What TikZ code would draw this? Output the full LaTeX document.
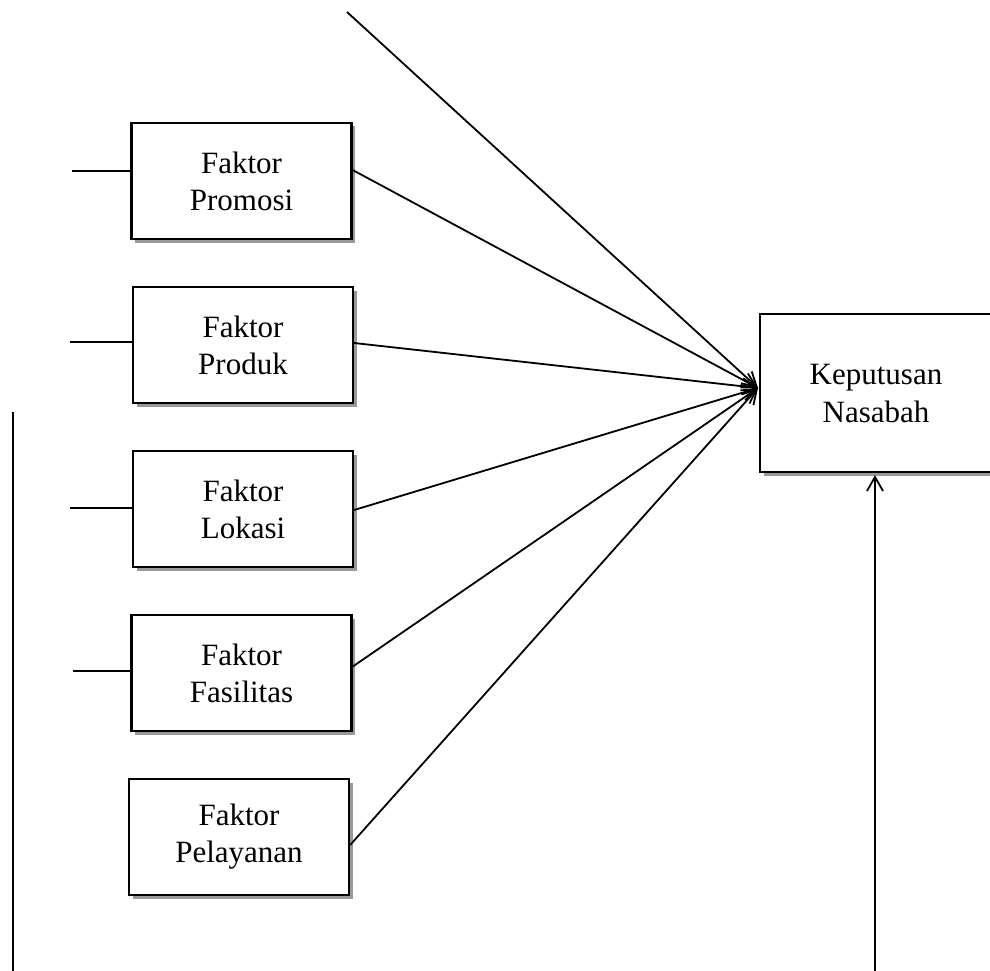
\documentclass[tikz,border=0pt]{standalone}
\usepackage{fontspec}
\setmainfont{Liberation Serif}
\usetikzlibrary{arrows.meta,shadows}
\begin{document}
\begin{tikzpicture}[x=1pt,y=-1pt,
  box/.style={draw=black, line width=2.3pt, fill=white, minimum width=220pt, minimum height=116pt,
    align=center, inner sep=0pt, font=\fontsize{31}{37}\selectfont,
    drop shadow={shadow xshift=3.5pt, shadow yshift=-3.5pt, fill=black!40, opacity=1}},
  conn/.style={line width=1.8pt},
  arr/.style={conn, -{Straight Barb[length=14pt,width=16pt,line width=1.8pt]}}]
\useasboundingbox (0,0) rectangle (990,971);
% boxes
\node[box] (promosi) at (241.5,181) {Faktor\\Promosi};
\node[box] (produk) at (243,345) {Faktor\\Produk};
\node[box] (lokasi) at (243,509) {Faktor\\Lokasi};
\node[box] (fasilitas) at (241.5,673) {Faktor\\Fasilitas};
\node[box] (pelayanan) at (239,837) {Faktor\\Pelayanan};
\node[box, minimum width=232pt, minimum height=158pt, font=\fontsize{31}{38}\selectfont] (kep) at (876,393) {Keputusan\\Nasabah};
% coordinates
\coordinate (tip) at (758,388);
\coordinate (top) at (347,12);
\coordinate (l1) at (72,171);
\coordinate (l2) at (70,342);
\coordinate (l3) at (70,508);
\coordinate (l4) at (73,671);
\coordinate (vt) at (13,412);
\coordinate (vb) at (13,975);
\coordinate (bb) at (875,975);
% left stubs
\draw[conn] (l1) -- (l1 -| promosi.west);
\draw[conn] (l2) -- (l2 -| produk.west);
\draw[conn] (l3) -- (l3 -| lokasi.west);
\draw[conn] (l4) -- (l4 -| fasilitas.west);
\draw[conn] (vt) -- (vb);
% arrows into Keputusan
\draw[arr] (top) -- (tip);
\draw[arr] ([yshift=11pt]promosi.east) -- (tip);
\draw[arr] ([yshift=2pt]produk.east) -- (tip);
\draw[arr] ([yshift=-1pt]lokasi.east) -- (tip);
\draw[arr] ([xshift=-2pt,yshift=5pt]fasilitas.east) -- (tip);
\draw[arr] ([yshift=-8pt]pelayanan.east) -- (tip);
\draw[arr] (bb) -- ([yshift=-2pt]bb |- kep.south);
\end{tikzpicture}
\end{document}
